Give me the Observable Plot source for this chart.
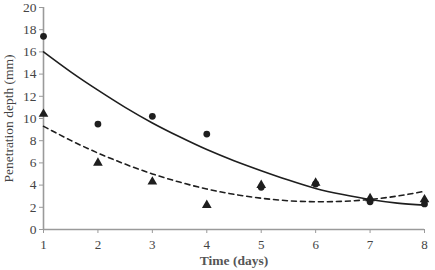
<!DOCTYPE html>
<html><head><meta charset="utf-8">
<script src="https://cdn.jsdelivr.net/npm/d3@7"></script>
<script src="https://cdn.jsdelivr.net/npm/@observablehq/plot@0.6"></script>
<style>body{margin:0;background:#fff}</style>
</head><body><div id="chart"></div>
<script>
const days = [1, 2, 3, 4, 5, 6, 7, 8];
const circleSeries = [17.4, 9.5, 10.2, 8.6, 3.8, 4.1, 2.5, 2.3];
const triangleSeries = [10.4, 6.0, 4.3, 2.2, 4.0, 4.2, 2.8, 2.7];
const fitX = [1, 1.5, 2, 2.5, 3, 3.5, 4, 4.5, 5, 5.5, 6, 6.5, 7, 7.5, 8];
const solidFit = [16.0, 14.2, 12.55, 11.0, 9.6, 8.35, 7.2, 6.2, 5.3, 4.45, 3.7, 3.15, 2.7, 2.38, 2.2];
const dashedFit = [9.3, 8.03, 6.89, 5.89, 5.01, 4.27, 3.65, 3.17, 2.82, 2.59, 2.5, 2.54, 2.71, 3.01, 3.44];
const yTicks = [0, 2, 4, 6, 8, 10, 12, 14, 16, 18, 20];

const pts = (ys) => days.map((d, i) => ({x: d, y: ys[i]}));
const fit = (ys) => fitX.map((d, i) => ({x: d, y: ys[i]}));
const ink = "#1e1e1e", axisC = "#9a9a9a", txt = "#444";

const chart = Plot.plot({
  width: 435, height: 270,
  marginLeft: 43, marginRight: 11, marginTop: 7, marginBottom: 41,
  style: {fontFamily: "'Liberation Serif', 'DejaVu Serif', serif", fontSize: "13px", color: txt, background: "#fff"},
  x: {domain: [1, 8]},
  y: {domain: [0, 20]},
  marks: [
    Plot.ruleY([0], {stroke: axisC, strokeWidth: 1.6}),
    Plot.ruleX([1], {stroke: axisC, strokeWidth: 1.6}),
    Plot.axisY({ticks: yTicks, tickSize: 4, tickPadding: 3, stroke: axisC, fill: txt, label: "Penetration depth (mm)", labelAnchor: "center", labelArrow: "none", labelOffset: 40, fontSize: 13.5}),
    Plot.axisX({ticks: days, tickFormat: "d", tickSize: 4, tickPadding: 6, stroke: axisC, fill: txt, label: null, fontSize: 13}),
    Plot.text(["Time (days)"], {frameAnchor: "bottom", dy: 35, fill: "#555", fontWeight: "bold", fontSize: 13.5}),
    Plot.line(fit(solidFit), {x: "x", y: "y", curve: "natural", stroke: ink, strokeWidth: 1.6}),
    Plot.line(fit(dashedFit), {x: "x", y: "y", curve: "natural", stroke: ink, strokeWidth: 1.6, strokeDasharray: "5,4"}),
    Plot.dot(pts(circleSeries), {x: "x", y: "y", r: 3.4, fill: ink, stroke: "none"}),
    Plot.dot(pts(triangleSeries), {x: "x", y: "y", symbol: "triangle", r: 3.6, fill: ink, stroke: "none"})
  ]
});
document.getElementById("chart").append(chart);
</script></body></html>
